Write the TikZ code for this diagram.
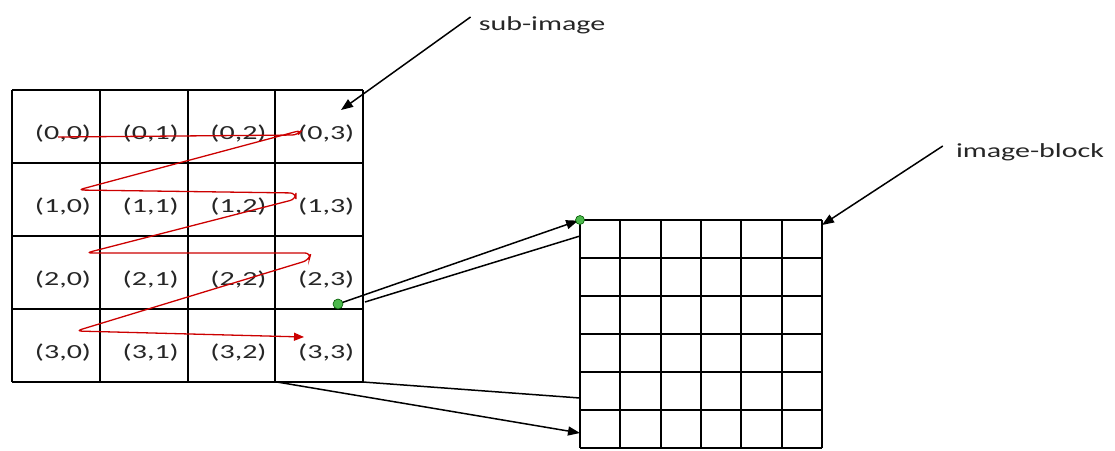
\documentclass[tikz,border=0pt]{standalone}
\usepackage{fontspec}
\newfontfamily\lblfont[FakeStretch=1.5]{Carlito}
\usetikzlibrary{arrows.meta}

\begin{document}
\begin{tikzpicture}[x=1pt,y=-1pt,
  every node/.style={font=\lblfont\fontsize{20}{22}\selectfont,text=black!85,inner sep=0pt},
  gridline/.style={line width=2pt},
  pointer/.style={line width=1.5pt,-{Triangle[length=12pt,width=9pt]}},
  plainline/.style={line width=1.5pt},
  dot/.style={fill=green!60!black!70,draw=green!35!black,line width=.6pt}]
\useasboundingbox (0,0) rectangle (1115,450);
% sub-image grid 4x4
\foreach \i in {0,...,4} {
  \draw[gridline] (12+87.75*\i,90) -- (12+87.75*\i,382);
  \draw[gridline] (12,90+73*\i) -- (363,90+73*\i);
}
\foreach \r in {0,...,3}
  \foreach \c in {0,...,3}
    \node (c\r\c) at (12+87.75*\c+51,90+73*\r+44) {(\r,\c)};
% image-block grid 6x6
\foreach \i in {0,...,6} {
  \draw[gridline] (580+40.33*\i,220) -- (580+40.33*\i,448);
  \draw[gridline] (580,220+38*\i) -- (822,220+38*\i);
}
% scan order
\draw[red!80!black,line width=1.3pt,rounded corners=6pt,-{Triangle[length=10pt,width=8pt]}]
  (58,137) -- (298,135) -- (302,130) -- (78,190) -- (296,193) -- (296,199) -- (86,253)
  -- (311,253) -- (309,260) -- (76,331) -- (304,337);
% labels
\node (sub) at (542,25) {sub-image};
\node (blk) at (1030,152) {image-block};
\coordinate (subtip) at (341,110);
\coordinate (blktip) at (822,225);
\draw[pointer] ([xshift=-8pt,yshift=8pt]sub.west) -- (subtip);
\draw[pointer] ([xshift=-13pt,yshift=6pt]blk.west) -- (blktip);
% mapping of the last cell
\coordinate (gA) at (338,304);
\coordinate (gB) at (580,220);
\coordinate (rA) at (365,302);
\coordinate (rB) at (580,236);
\coordinate (bA) at (363,382);
\coordinate (bB) at (580,398);
\coordinate (lA) at (277,382);
\coordinate (lB) at (580,433);
\draw[pointer,shorten >=2pt] (gA) -- (gB);
\draw[plainline] (rA) -- (rB);
\draw[plainline] (bA) -- (bB);
\draw[pointer] (lA) -- (lB);
\fill[dot] (gA) circle (5pt);
\fill[dot] (gB) circle (4.5pt);
\end{tikzpicture}
\end{document}
